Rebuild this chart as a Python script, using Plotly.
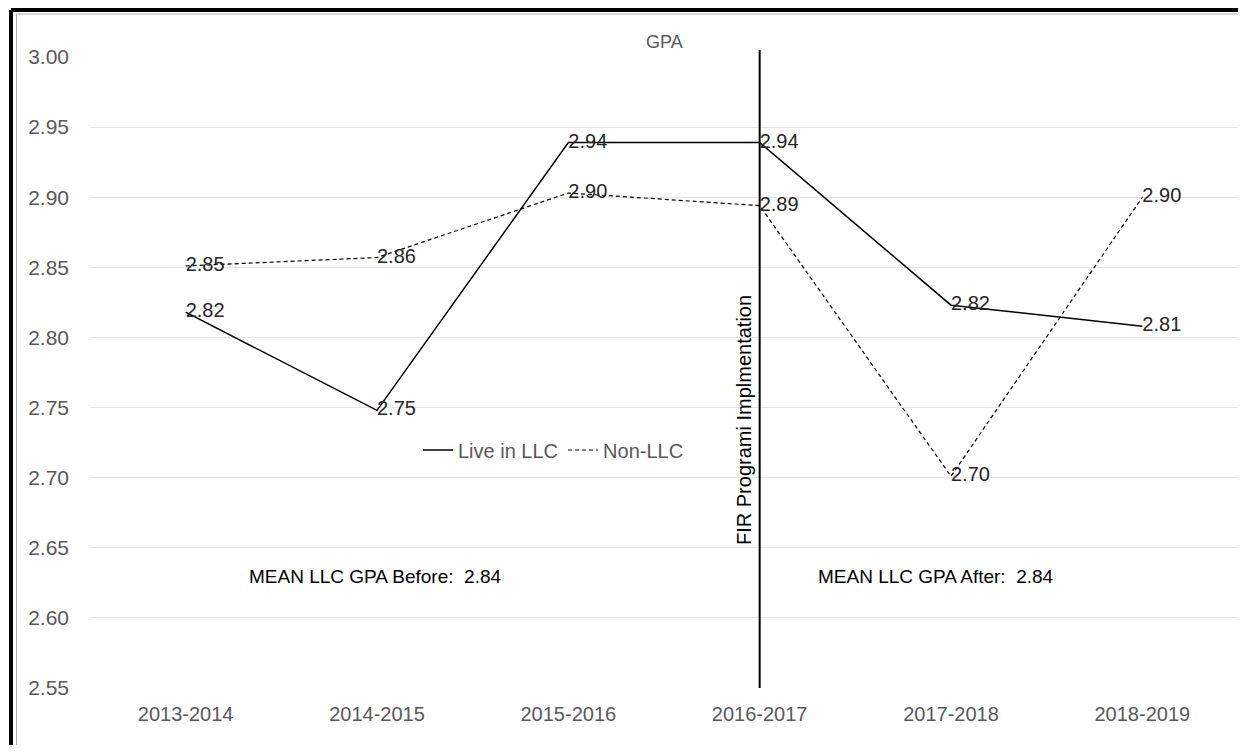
import plotly.graph_objects as go

years = ["2013-2014", "2014-2015", "2015-2016", "2016-2017", "2017-2018", "2018-2019"]
llc = [2.818, 2.748, 2.939, 2.939, 2.823, 2.808]
non_llc = [2.851, 2.857, 2.903, 2.894, 2.701, 2.900]
y_ticks = [2.55, 2.60, 2.65, 2.70, 2.75, 2.80, 2.85, 2.90, 2.95, 3.00]
mean_before = 2.84
mean_after = 2.84

FONT = "Liberation Sans, Arial, sans-serif"
OFF = 8  # page body margin
W, H = 1246 - 2 * OFF, 753 - 2 * OFF
# plot area in screen pixels: x 90..1238, y 57..688
L, T = 90 - OFF, 57 - OFF
R = W - (1238 - OFF)
B = H - (688 - OFF)
pw, ph = W - L - R, H - T - B

def px_x(p):
    return (p - OFF - L) / pw

def px_y(p):
    return (H - B - (p - OFF)) / ph

fig = go.Figure()
fig.add_trace(go.Scatter(
    x=years, y=llc, mode="lines+text", name="Live in LLC",
    line=dict(color="black", width=1.5),
    text=[f"{v:.2f}" for v in llc], textposition="middle right",
    textfont=dict(family=FONT, size=20, color="#262626"),
))
fig.add_trace(go.Scatter(
    x=years, y=non_llc, mode="lines+text", name="Non-LLC",
    line=dict(color="black", width=1.2, dash="4px,3px"),
    text=[f"{v:.2f}" for v in non_llc], textposition="middle right",
    textfont=dict(family=FONT, size=20, color="#262626"),
))

shapes = [
    dict(type="line", xref="x", yref="paper", x0="2016-2017", x1="2016-2017",
         y0=0, y1=px_y(50), line=dict(color="black", width=2)),
    dict(type="line", xref="paper", yref="paper", x0=px_x(11), x1=px_x(1250),
         y0=px_y(10), y1=px_y(10), line=dict(color="black", width=4)),
    dict(type="line", xref="paper", yref="paper", x0=px_x(11), x1=px_x(11),
         y0=px_y(10), y1=px_y(760), line=dict(color="black", width=4)),
    dict(type="line", xref="paper", yref="paper", x0=px_x(16.5), x1=px_x(1250),
         y0=px_y(14), y1=px_y(14), line=dict(color="#b0b0b0", width=1)),
    dict(type="line", xref="paper", yref="paper", x0=px_x(16.5), x1=px_x(16.5),
         y0=px_y(14), y1=px_y(760), line=dict(color="#b0b0b0", width=1)),
]

annotations = [
    dict(text="GPA", xref="paper", yref="paper", x=0.5, y=px_y(30), xanchor="center",
         showarrow=False, font=dict(family=FONT, size=18, color="#595959")),
    dict(text="FIR Programi Implmentation", xref="paper", yref="paper",
         x=px_x(744), y=px_y(420), xanchor="center", yanchor="middle", textangle=-90,
         showarrow=False, font=dict(family=FONT, size=20, color="black")),
    dict(text=f"MEAN LLC GPA Before:  {mean_before:.2f}", xref="paper", yref="paper",
         x=px_x(375), y=px_y(576), xanchor="center", yanchor="middle", showarrow=False,
         font=dict(family=FONT, size=19, color="black")),
    dict(text=f"MEAN LLC GPA After:  {mean_after:.2f}", xref="paper", yref="paper",
         x=px_x(936), y=px_y(576), xanchor="center", yanchor="middle", showarrow=False,
         font=dict(family=FONT, size=19, color="black")),
]

fig.update_layout(
    width=W, height=H,
    margin=dict(l=L, r=R, t=T, b=B, pad=0),
    paper_bgcolor="white", plot_bgcolor="white",
    showlegend=True,
    legend=dict(orientation="h", x=px_x(418), y=px_y(450), xanchor="left", yanchor="middle",
                font=dict(family=FONT, size=20, color="#595959"),
                bgcolor="rgba(0,0,0,0)", itemwidth=30, tracegroupgap=0),
    shapes=shapes, annotations=annotations,
    xaxis=dict(type="category", range=[-0.5, 5.5], showgrid=False, showline=False,
               zeroline=False, ticks="",
               tickfont=dict(family=FONT, size=20, color="#595959"),
               ticklabelstandoff=12),
    yaxis=dict(range=[2.55, 3.0], tickvals=y_ticks, ticktext=[f"{v:.2f}" for v in y_ticks],
               showgrid=True, gridcolor="#e6e6e6", gridwidth=1, zeroline=False,
               showline=False, ticks="",
               tickfont=dict(family=FONT, size=21, color="#595959"),
               ticklabelstandoff=20),
)

fig.write_html("out.html")
